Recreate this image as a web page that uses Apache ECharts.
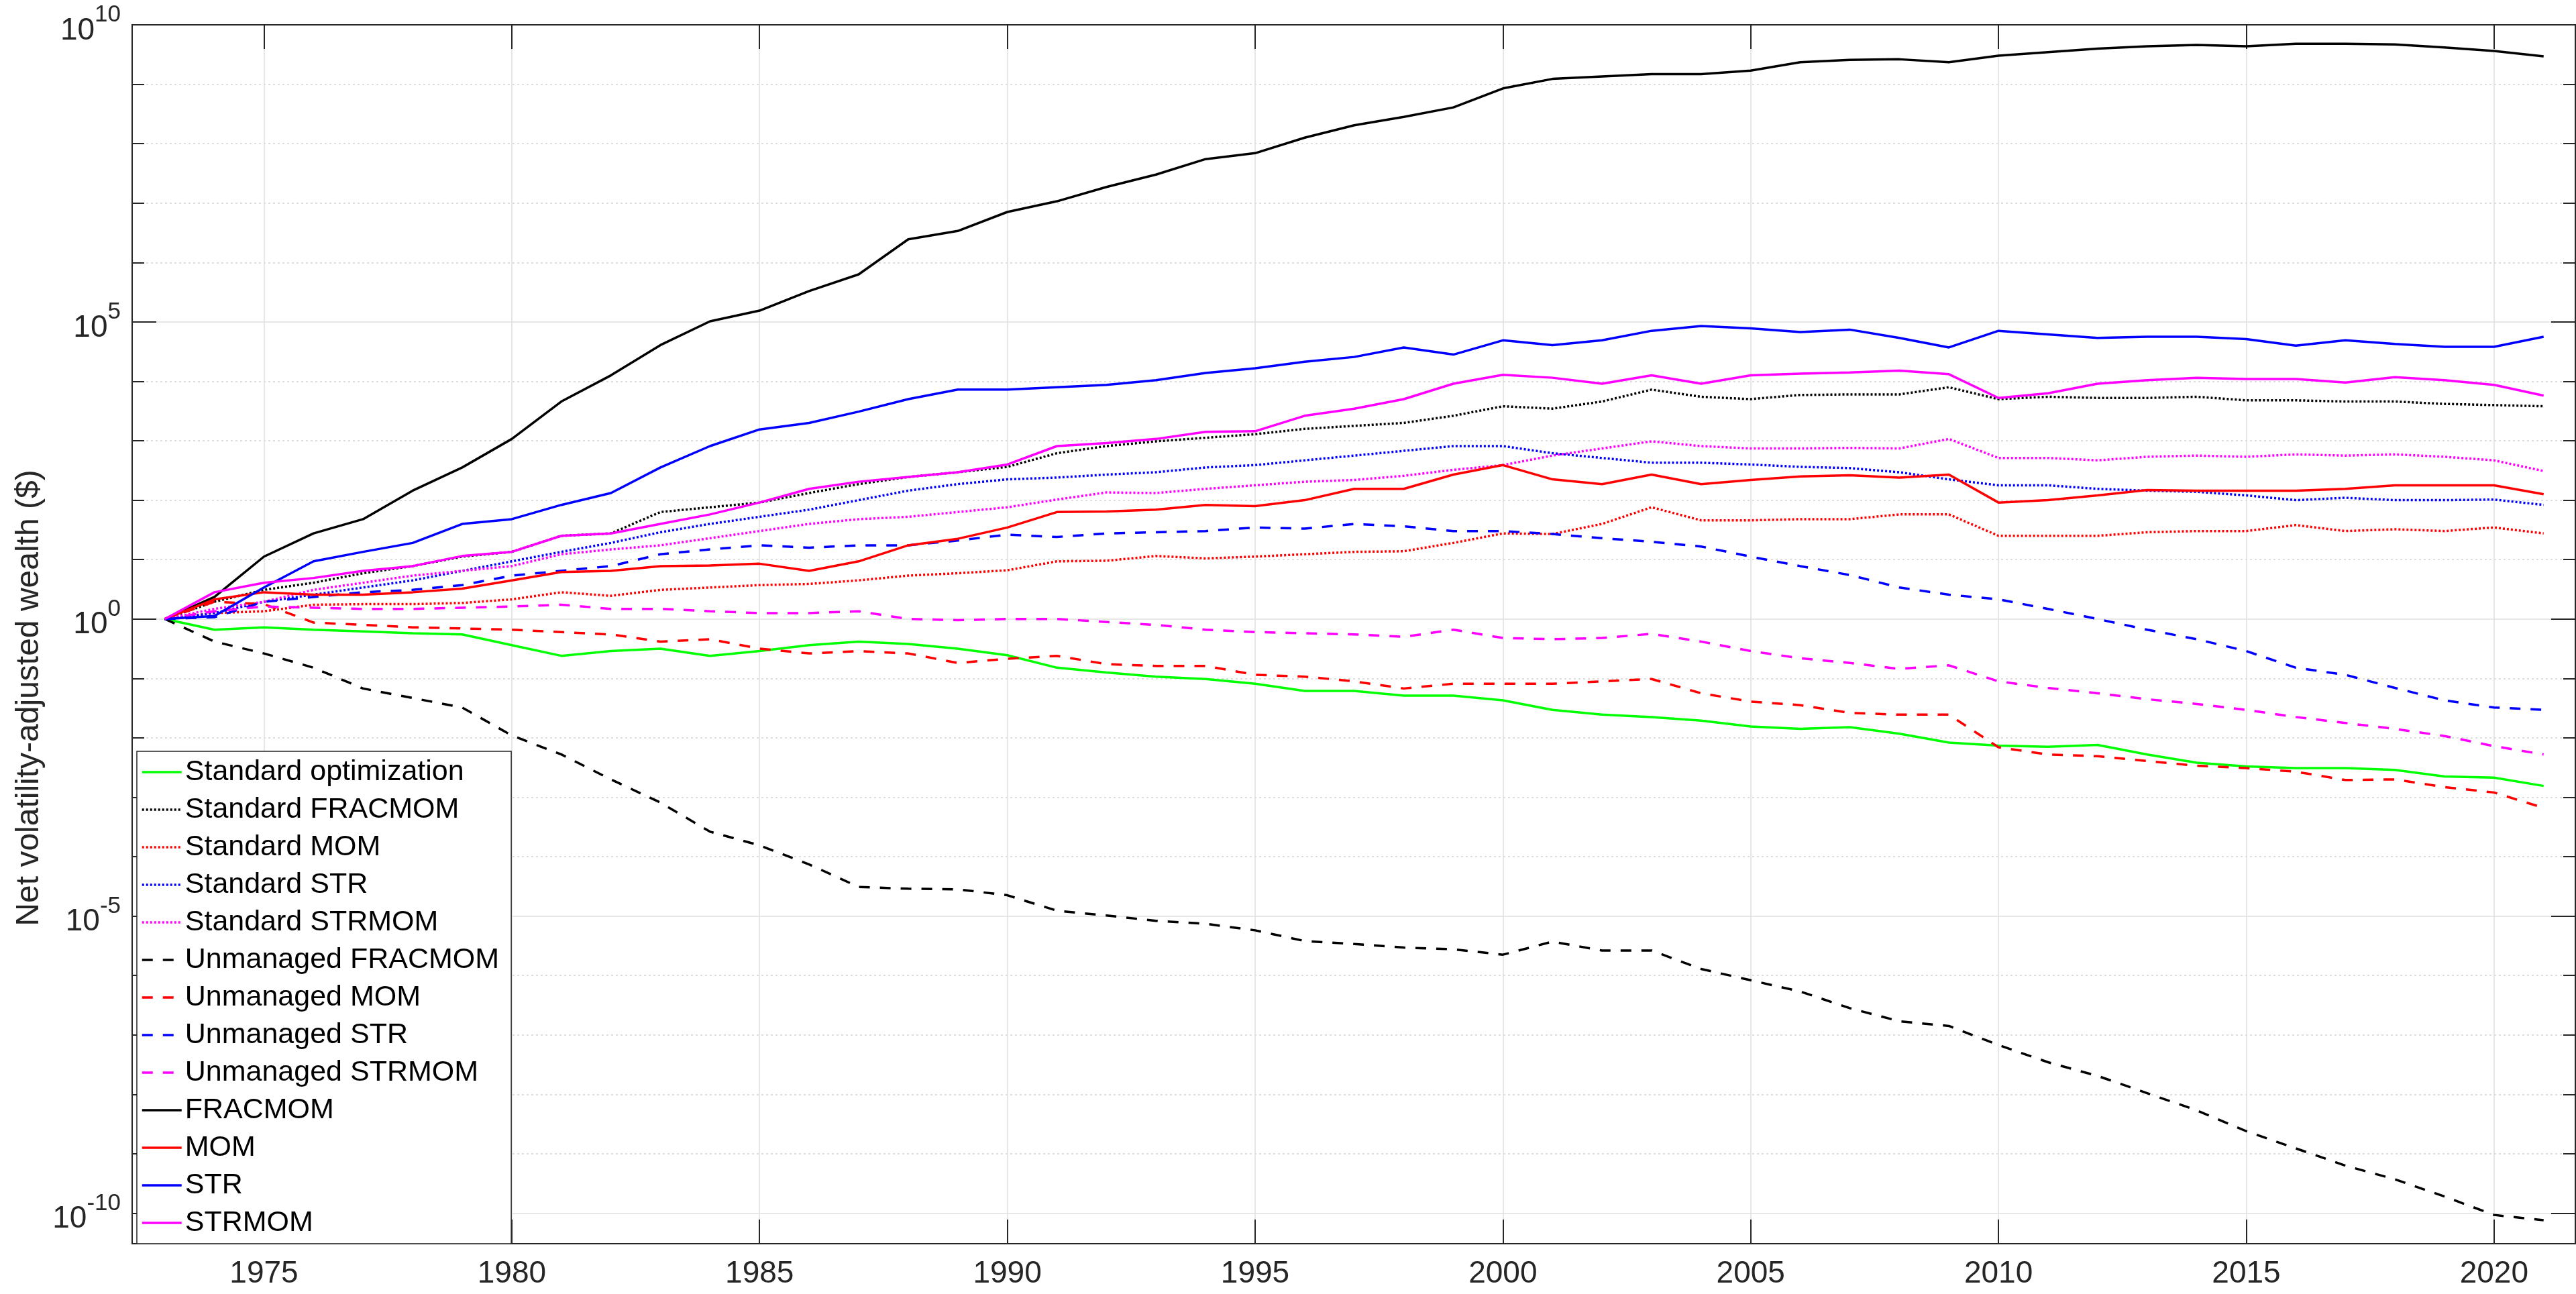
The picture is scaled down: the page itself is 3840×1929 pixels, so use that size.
<!DOCTYPE html>
<html>
<head>
<meta charset="utf-8">
<title>Net volatility-adjusted wealth</title>
<script src="https://cdn.jsdelivr.net/npm/echarts@6/dist/echarts.min.js"></script>
<style>
  html, body { margin: 0; padding: 0; background: #fff; }
  #main { width: 3840px; height: 1929px; }
</style>
</head>
<body>
<div id="main"></div>
<script>
var years = [1973, 1974, 1975, 1976, 1977, 1978, 1979, 1980, 1981, 1982,
             1983, 1984, 1985, 1986, 1987, 1988, 1989, 1990, 1991, 1992,
             1993, 1994, 1995, 1996, 1997, 1998, 1999, 2000, 2001, 2002,
             2003, 2004, 2005, 2006, 2007, 2008, 2009, 2010, 2011, 2012,
             2013, 2014, 2015, 2016, 2017, 2018, 2019, 2020, 2021];

var stdOpt = [0, -0.18, -0.14, -0.18, -0.21, -0.24, -0.26, -0.44, -0.62, -0.54,
              -0.50, -0.62, -0.54, -0.44, -0.38, -0.42, -0.50, -0.61, -0.82, -0.90,
              -0.97, -1.01, -1.09, -1.21, -1.21, -1.29, -1.29, -1.37, -1.53, -1.61,
              -1.65, -1.71, -1.81, -1.85, -1.82, -1.93, -2.08, -2.13, -2.15, -2.12,
              -2.28, -2.42, -2.48, -2.51, -2.51, -2.54, -2.65, -2.67, -2.81];
var stdFracmom = [0, 0.29, 0.49, 0.61, 0.77, 0.89, 1.05, 1.13, 1.40, 1.44,
                  1.80, 1.88, 1.96, 2.12, 2.27, 2.39, 2.47, 2.56, 2.79, 2.91,
                  2.99, 3.05, 3.11, 3.20, 3.25, 3.30, 3.42, 3.58, 3.54, 3.66,
                  3.86, 3.74, 3.70, 3.77, 3.78, 3.78, 3.90, 3.70, 3.74, 3.72,
                  3.72, 3.74, 3.68, 3.68, 3.66, 3.66, 3.62, 3.60, 3.58];
var stdMom = [0, 0.10, 0.13, 0.24, 0.25, 0.25, 0.27, 0.33, 0.45, 0.39,
              0.49, 0.53, 0.57, 0.59, 0.65, 0.73, 0.77, 0.82, 0.97, 0.98,
              1.06, 1.02, 1.05, 1.09, 1.13, 1.14, 1.28, 1.44, 1.43, 1.60,
              1.88, 1.66, 1.66, 1.68, 1.68, 1.76, 1.76, 1.40, 1.40, 1.40,
              1.46, 1.48, 1.48, 1.58, 1.48, 1.51, 1.48, 1.54, 1.44];
var stdStr = [0, 0.10, 0.29, 0.41, 0.53, 0.65, 0.81, 0.97, 1.13, 1.28,
              1.46, 1.60, 1.72, 1.84, 2.00, 2.16, 2.27, 2.35, 2.38, 2.43,
              2.47, 2.55, 2.59, 2.67, 2.75, 2.83, 2.91, 2.91, 2.79, 2.71,
              2.63, 2.63, 2.60, 2.56, 2.54, 2.47, 2.35, 2.25, 2.25, 2.19,
              2.16, 2.14, 2.08, 2.00, 2.04, 2.00, 2.00, 2.01, 1.92];
var stdStrmom = [0, 0.17, 0.29, 0.49, 0.61, 0.73, 0.81, 0.89, 1.09, 1.17,
                 1.24, 1.36, 1.48, 1.60, 1.68, 1.72, 1.80, 1.88, 2.01, 2.13,
                 2.12, 2.19, 2.25, 2.31, 2.34, 2.41, 2.51, 2.59, 2.75, 2.87,
                 2.99, 2.91, 2.87, 2.87, 2.88, 2.87, 3.03, 2.71, 2.71, 2.67,
                 2.73, 2.75, 2.73, 2.77, 2.75, 2.77, 2.73, 2.67, 2.49];
var unFracmom = [0, -0.38, -0.58, -0.82, -1.17, -1.33, -1.49, -1.96, -2.28, -2.70,
                 -3.09, -3.58, -3.81, -4.13, -4.51, -4.54, -4.55, -4.65, -4.91, -4.99,
                 -5.08, -5.13, -5.24, -5.42, -5.47, -5.53, -5.56, -5.65, -5.43, -5.58,
                 -5.58, -5.89, -6.08, -6.27, -6.55, -6.77, -6.85, -7.17, -7.46, -7.69,
                 -7.98, -8.27, -8.62, -8.91, -9.20, -9.43, -9.72, -10.03, -10.12];
var unMom = [0, 0.29, 0.25, -0.06, -0.10, -0.14, -0.16, -0.18, -0.22, -0.26,
             -0.38, -0.34, -0.50, -0.58, -0.54, -0.58, -0.74, -0.67, -0.62, -0.76,
             -0.79, -0.79, -0.94, -0.97, -1.05, -1.17, -1.09, -1.09, -1.09, -1.05,
             -1.01, -1.25, -1.39, -1.45, -1.58, -1.61, -1.61, -2.16, -2.28, -2.31,
             -2.39, -2.47, -2.51, -2.57, -2.71, -2.70, -2.83, -2.92, -3.18];
var unStr = [0, 0.03, 0.29, 0.37, 0.45, 0.49, 0.57, 0.73, 0.81, 0.89,
             1.09, 1.17, 1.24, 1.20, 1.24, 1.24, 1.32, 1.42, 1.38, 1.44,
             1.46, 1.48, 1.54, 1.52, 1.60, 1.56, 1.48, 1.48, 1.43, 1.36,
             1.30, 1.22, 1.05, 0.89, 0.74, 0.53, 0.41, 0.33, 0.17, 0.00,
             -0.18, -0.34, -0.54, -0.82, -0.94, -1.16, -1.37, -1.49, -1.53];
var unStrmom = [0, 0.13, 0.21, 0.19, 0.17, 0.17, 0.19, 0.21, 0.24, 0.17,
                0.17, 0.13, 0.10, 0.10, 0.13, 0.00, -0.02, 0.00, 0.00, -0.05,
                -0.10, -0.18, -0.22, -0.24, -0.26, -0.30, -0.18, -0.32, -0.34, -0.32,
                -0.25, -0.38, -0.54, -0.66, -0.74, -0.84, -0.78, -1.05, -1.16, -1.25,
                -1.35, -1.43, -1.53, -1.65, -1.75, -1.85, -1.97, -2.14, -2.28];
var fracmom = [0, 0.37, 1.05, 1.44, 1.68, 2.16, 2.55, 3.03, 3.66, 4.10,
               4.61, 5.01, 5.19, 5.52, 5.80, 6.39, 6.53, 6.85, 7.03, 7.27,
               7.48, 7.74, 7.84, 8.10, 8.31, 8.45, 8.61, 8.93, 9.09, 9.13,
               9.17, 9.17, 9.23, 9.37, 9.41, 9.42, 9.37, 9.48, 9.54, 9.60,
               9.64, 9.66, 9.64, 9.68, 9.68, 9.67, 9.62, 9.56, 9.47];
var mom = [0, 0.33, 0.45, 0.41, 0.41, 0.45, 0.51, 0.65, 0.79, 0.81,
           0.89, 0.90, 0.93, 0.81, 0.97, 1.24, 1.35, 1.54, 1.80, 1.81,
           1.84, 1.92, 1.90, 2.00, 2.19, 2.19, 2.43, 2.59, 2.35, 2.27,
           2.43, 2.27, 2.34, 2.40, 2.42, 2.38, 2.43, 1.96, 2.00, 2.08,
           2.17, 2.16, 2.16, 2.16, 2.19, 2.25, 2.25, 2.25, 2.10];
var str = [0, 0.05, 0.53, 0.97, 1.13, 1.28, 1.60, 1.68, 1.92, 2.12,
           2.55, 2.91, 3.19, 3.30, 3.49, 3.70, 3.86, 3.86, 3.90, 3.94,
           4.02, 4.14, 4.22, 4.33, 4.41, 4.57, 4.45, 4.69, 4.61, 4.69,
           4.85, 4.93, 4.89, 4.83, 4.87, 4.73, 4.57, 4.85, 4.79, 4.73,
           4.75, 4.75, 4.71, 4.60, 4.69, 4.63, 4.58, 4.58, 4.75];
var strmom = [0, 0.45, 0.61, 0.69, 0.81, 0.89, 1.06, 1.13, 1.40, 1.44,
              1.60, 1.76, 1.96, 2.19, 2.31, 2.39, 2.47, 2.60, 2.91, 2.96,
              3.03, 3.15, 3.16, 3.42, 3.54, 3.70, 3.96, 4.11, 4.06, 3.96,
              4.10, 3.96, 4.10, 4.13, 4.15, 4.18, 4.12, 3.72, 3.80, 3.96,
              4.02, 4.06, 4.04, 4.04, 3.98, 4.07, 4.02, 3.94, 3.76];

var xTicks = [1975, 1980, 1985, 1990, 1995, 2000, 2005, 2010, 2015, 2020];
var yMajor = [-10, -5, 0, 5, 10];
var yMinor = [-9, -8, -7, -6, -4, -3, -2, -1, 1, 2, 3, 4, 6, 7, 8, 9];

var FONT = '"Liberation Sans", Arial, Helvetica, sans-serif';
var AXIS = '#262626';
var DOT = [3, 3];
var DASH = [16, 15];

var lines = [
  ['Standard optimization', stdOpt, '#00ff00', 'solid'],
  ['Standard FRACMOM', stdFracmom, '#000000', DOT],
  ['Standard MOM', stdMom, '#ff0000', DOT],
  ['Standard STR', stdStr, '#0000ff', DOT],
  ['Standard STRMOM', stdStrmom, '#ff00ff', DOT],
  ['Unmanaged FRACMOM', unFracmom, '#000000', DASH],
  ['Unmanaged MOM', unMom, '#ff0000', DASH],
  ['Unmanaged STR', unStr, '#0000ff', DASH],
  ['Unmanaged STRMOM', unStrmom, '#ff00ff', DASH],
  ['FRACMOM', fracmom, '#000000', 'solid'],
  ['MOM', mom, '#ff0000', 'solid'],
  ['STR', str, '#0000ff', 'solid'],
  ['STRMOM', strmom, '#ff00ff', 'solid']
];

var series = lines.map(function (l) {
  return {
    name: l[0],
    type: 'line',
    data: years.map(function (y, i) { return [y, l[1][i]]; }),
    symbol: 'none',
    showSymbol: false,
    color: l[2],
    lineStyle: { color: l[2], width: 3.5, type: l[3] },
    emphasis: { disabled: true }
  };
});

var xMin = 1972.34, xMax = 2021.64;
var yMin = -10.514, yMax = 10;

function xAxisDef(pos, labels) {
  return {
    type: 'value', position: pos, min: xMin, max: xMax,
    axisLine: { show: true, onZero: false, lineStyle: { color: AXIS, width: 2 } },
    axisTick: { show: true, inside: true, length: 36, customValues: xTicks,
                lineStyle: { color: AXIS, width: 2 } },
    axisLabel: { show: labels, customValues: xTicks, fontSize: 46, color: AXIS,
                 fontFamily: FONT, margin: 22,
                 formatter: function (v) { return String(v); } },
    splitLine: { show: labels, lineStyle: { color: '#dfdfdf', width: 1.5 } }
  };
}

function yAxisDef(pos, ticks, len, grid, dotted) {
  return {
    type: 'value', position: pos, offset: 0, min: yMin, max: yMax,
    axisLine: { show: true, onZero: false, lineStyle: { color: AXIS, width: 2 } },
    axisTick: { show: true, inside: true, length: len, customValues: ticks,
                lineStyle: { color: AXIS, width: 2 } },
    axisLabel: { show: false },
    splitLine: { show: grid, lineStyle: { color: dotted ? '#d4d4d4' : '#dfdfdf',
                 width: 1.5, type: dotted ? [3, 4] : 'solid' } }
  };
}

var yLeft = yAxisDef('left', yMajor, 36, true, false);
yLeft.axisLabel = {
  show: true, customValues: yMajor, margin: 17,
  formatter: function (v) { return '{b|10}{s|' + v + '}'; },
  rich: {
    b: { fontSize: 46, color: AXIS, fontFamily: FONT, lineHeight: 64, verticalAlign: 'bottom' },
    s: { fontSize: 35, color: AXIS, fontFamily: FONT, lineHeight: 64, verticalAlign: 'top' }
  }
};
yLeft.name = 'Net volatility-adjusted wealth ($)';
yLeft.nameLocation = 'middle';
yLeft.nameRotate = 90;
yLeft.nameGap = 128;
// nudged down along the axis to sit where the original label sits
yLeft.nameTextStyle = { fontSize: 48, color: AXIS, fontFamily: FONT, padding: [0, 190, 0, 0] };

var option = {
  animation: false,
  backgroundColor: '#ffffff',
  grid: { left: 197, right: 1, top: 37, bottom: 75, containLabel: false },
  xAxis: [xAxisDef('bottom', true), xAxisDef('top', false)],
  yAxis: [
    yLeft,
    yAxisDef('left', yMinor, 18, true, true),
    yAxisDef('right', yMajor, 36, false, false),
    yAxisDef('right', yMinor, 18, false, false)
  ],
  legend: {
    orient: 'vertical', left: 204, top: 1120,
    padding: [6, 18, 6, 6],
    itemWidth: 59, itemHeight: 20, itemGap: 6,
    backgroundColor: '#ffffff', borderColor: AXIS, borderWidth: 1.5, borderRadius: 0,
    itemStyle: { opacity: 0 },
    lineStyle: { width: 3.5 },
    textStyle: { fontSize: 43, color: '#000000', fontFamily: FONT, lineHeight: 50 },
    data: lines.map(function (l) { return l[0]; }),
    selectedMode: false
  },
  series: series
};

var chart = echarts.init(document.getElementById('main'));
chart.setOption(option);
</script>
</body>
</html>
